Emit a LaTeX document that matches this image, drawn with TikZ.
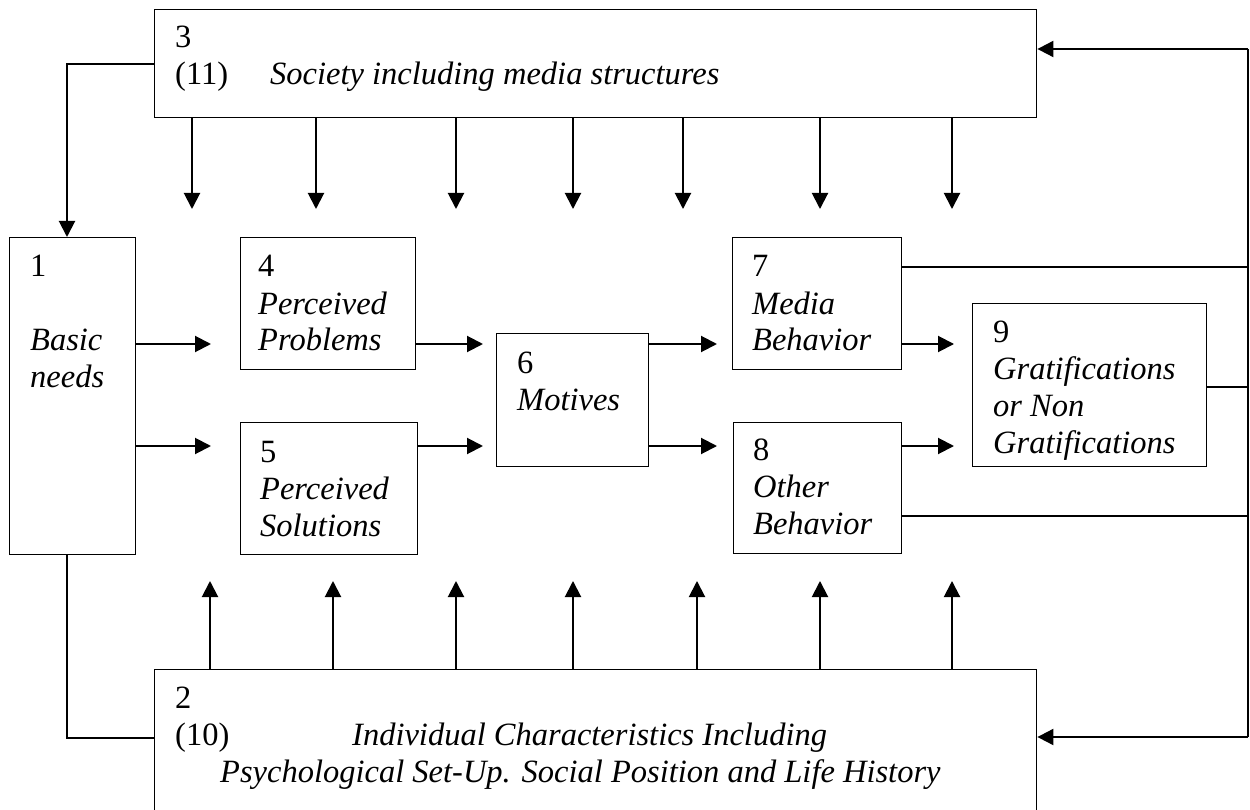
\documentclass[tikz,border=0pt]{standalone}
\usepackage{fontspec}
\setmainfont{Liberation Serif}
\usetikzlibrary{arrows.meta}
\begin{document}
\begin{tikzpicture}[x=1pt,y=-1pt,
  box/.style={draw,line width=1.4pt,inner sep=0pt,anchor=north west},
  lbl/.style={anchor=base west,inner sep=0pt,font=\fontsize{32.5}{37}\selectfont},
  ilbl/.style={lbl,font=\fontsize{32.5}{37}\selectfont\itshape},
  arr/.style={line width=2pt,-{Triangle[width=16pt,length=16pt]}},
  link/.style={line width=1.4pt},
  fb/.style={line width=2pt}]
\useasboundingbox (0,0) rectangle (1250,810);

% boxes
\node[box,minimum width=882pt,minimum height=108pt] (b3) at (154,9) {};
\node[box,minimum width=882pt,minimum height=200pt] (b2) at (154,669) {};
\node[box,minimum width=126pt,minimum height=317pt] (b1) at (9,237) {};
\node[box,minimum width=175pt,minimum height=132pt] (b4) at (240,237) {};
\node[box,minimum width=177pt,minimum height=132pt] (b5) at (240,422) {};
\node[box,minimum width=152pt,minimum height=133pt] (b6) at (496,333) {};
\node[box,minimum width=169pt,minimum height=132pt] (b7) at (732,237) {};
\node[box,minimum width=168pt,minimum height=131pt] (b8) at (733,422) {};
\node[box,minimum width=234pt,minimum height=163pt] (b9) at (972,303) {};

% labels
\node[lbl] (t3a) at (175,48) {3};
\node[lbl] (t3b) at (175,85) {(11)};
\node[ilbl] (t3c) at (270,85) {Society including media structures};

\node[lbl] (t1a) at (30,277) {1};
\node[ilbl] (t1b) at (30,350) {Basic};
\node[ilbl] (t1c) at (30,387) {needs};

\node[lbl] (t4a) at (258,277) {4};
\node[ilbl] (t4b) at (258,314) {Perceived};
\node[ilbl] (t4c) at (258,350) {Problems};

\node[lbl] (t5a) at (260,462) {5};
\node[ilbl] (t5b) at (260,499) {Perceived};
\node[ilbl] (t5c) at (260,536) {Solutions};

\node[lbl] (t6a) at (517,373) {6};
\node[ilbl] (t6b) at (517,410) {Motives};

\node[lbl] (t7a) at (752,277) {7};
\node[ilbl] (t7b) at (752,314) {Media};
\node[ilbl] (t7c) at (752,350) {Behavior};

\node[lbl] (t8a) at (753,460) {8};
\node[ilbl] (t8b) at (753,497) {Other};
\node[ilbl] (t8c) at (753,534) {Behavior};

\node[lbl] (t9a) at (993,342) {9};
\node[ilbl] (t9b) at (993,379) {Gratifications};
\node[ilbl] (t9c) at (993,416) {or Non};
\node[ilbl] (t9d) at (993,453) {Gratifications};

\node[lbl] (t2a) at (175,708) {2};
\node[lbl] (t2b) at (175,745) {(10)};
\node[ilbl] (t2c) at (352,745) {Individual Characteristics Including};
\node[ilbl] (t2d) at (220,782) {Psychological Set-Up. Social Position and Life History};

% society acts downward on every stage
\foreach \x in {192,316,456,573,683,820,952}
  \draw[arr] (b3.south -| \x,0) -- (\x,209);
% individual characteristics act upward on every stage
\foreach \x in {210,333,456,573,697,820,952}
  \draw[arr] (b2.north -| \x,0) -- (\x,581);

% society -> basic needs
\draw[arr] (b3.west |- 0,64) -- (67,64) -- (b1.north -| 67,0);
% basic needs -- individual characteristics
\draw[link] (b1.south -| 67,0) -- (67,738) -- (b2.west |- 0,738);

% basic needs -> problems / solutions
\coordinate (p4) at (211,344);
\coordinate (p5) at (211,446);
\draw[arr] (b1.east |- p4) -- (p4);
\draw[arr] (b1.east |- p5) -- (p5);

% problems / solutions -> motives
\draw[arr] (b4.east |- 0,344) -- (483,344);
\draw[arr] (b5.east |- 0,446) -- (483,446);

% motives -> behaviours
\draw[arr] (b6.east |- 0,344) -- (717,344);
\draw[arr] (b6.east |- 0,446) -- (717,446);

% behaviours -> gratifications
\draw[arr] (b7.east |- 0,344) -- (954,344);
\draw[arr] (b8.east |- 0,446) -- (954,446);

% feedback loop on the right
\coordinate (fbTop) at (1248,49);
\coordinate (fbBot) at (1248,737);
\draw[link] (b7.east |- 0,267) -- (fbTop |- 0,267);
\draw[link] (b9.east |- 0,387) -- (fbTop |- 0,387);
\draw[link] (b8.east |- 0,516) -- (fbTop |- 0,516);
\draw[fb] (fbTop) -- (fbBot);
\draw[arr] (fbTop) -- (b3.east |- fbTop);
\draw[arr] (fbBot) -- (b2.east |- fbBot);
\end{tikzpicture}
\end{document}
